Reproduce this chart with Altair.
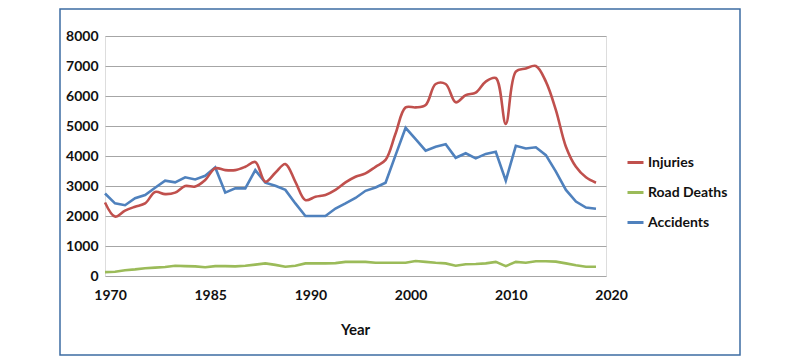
import altair as alt
import pandas as pd

years = list(range(1970, 2020))
injuries = [2450, 1980, 2180, 2310, 2420, 2800, 2730, 2780, 3000, 2980,
            3200, 3590, 3530, 3530, 3640, 3800, 3140, 3440, 3730, 3140,
            2530, 2640, 2700, 2870, 3120, 3310, 3420, 3640, 3870, 4750,
            5620, 5620, 5700, 6400, 6400, 5790, 6030, 6110, 6480, 6600,
            5070, 6810, 6920, 7000, 6480, 5530, 4310, 3640, 3290, 3110]
road_deaths = [130, 140, 190, 220, 260, 280, 300, 340, 330, 320,
               290, 330, 330, 320, 340, 380, 420, 370, 310, 340,
               420, 420, 420, 430, 470, 470, 470, 440, 440, 440,
               440, 500, 470, 440, 420, 340, 390, 400, 420, 470,
               330, 470, 440, 490, 490, 480, 420, 360, 310, 310]
accidents = [2750, 2420, 2360, 2590, 2700, 2940, 3180, 3120, 3290, 3220,
             3340, 3620, 2780, 2920, 2920, 3530, 3110, 3010, 2870, 2420,
             2000, 2000, 2000, 2250, 2420, 2600, 2840, 2950, 3110, 4030,
             4940, 4560, 4180, 4310, 4390, 3940, 4090, 3920, 4070, 4140,
             3180, 4340, 4250, 4290, 4030, 3480, 2870, 2480, 2280, 2240]

series_names = ["Injuries", "Road Deaths", "Accidents"]
series_colors = ["#c0504d", "#9bbb59", "#4f81bd"]
tick_years = [1970, 1980, 1990, 2000, 2010, 2020]
tick_labels = ["1970", "1985", "1990", "2000", "2010", "2020"]

rows = []
for name, vals in zip(series_names, [injuries, road_deaths, accidents]):
    for y, v in zip(years, vals):
        rows.append({"Year": y, "Value": v, "Series": name})
df = pd.DataFrame(rows)

label_expr = "{" + ",".join(f"'{y}':'{l}'" for y, l in zip(tick_years, tick_labels)) + "}[datum.value]"

FONT = "Lato"

x_enc = alt.X("Year:Q", scale=alt.Scale(domain=[1970, 2020], nice=False, zero=False),
              axis=alt.Axis(values=tick_years, labelExpr=label_expr, grid=False, ticks=False,
                            domain=False, labelFontSize=14, labelFontWeight="bold",
                            labelPadding=12, labelOffset=5, labelFlush=False,
                            title="Year", titleFontSize=15, titleFontWeight="bold",
                            titlePadding=20, titleX=250, labelColor="#111", titleColor="#111"))
y_enc = alt.Y("Value:Q", scale=alt.Scale(domain=[0, 8000], nice=False),
              axis=alt.Axis(values=list(range(0, 8001, 1000)), format="d", grid=True, ticks=False,
                            domain=False, labelFontSize=14, labelFontWeight="bold",
                            labelPadding=7, title=None, labelColor="#111",
                            gridColor="#a6a6a6", gridWidth=1))
color_enc = alt.Color("Series:N",
                      scale=alt.Scale(domain=series_names, range=series_colors),
                      sort=series_names,
                      legend=alt.Legend(title=None, orient="none", legendX=521, legendY=117,
                                        symbolType="stroke", symbolStrokeWidth=3,
                                        symbolSize=256, labelFontSize=14,
                                        labelFontWeight="bold", labelFont=FONT,
                                        rowPadding=13, labelOffset=3, labelColor="#111"))

base = alt.Chart(df)

frame = alt.Chart(pd.DataFrame({"k": [0]})).mark_rect(
    fill=None, stroke="#3d6ca3", strokeWidth=1.5
).encode(x=alt.value(-45), x2=alt.value(635), y=alt.value(-27), y2=alt.value(319))

red = base.transform_filter(alt.datum.Series == "Injuries").mark_line(
    strokeWidth=2.6, interpolate="catmull-rom").encode(x=x_enc, y=y_enc, color=color_enc)
others = base.transform_filter(alt.datum.Series != "Injuries").mark_line(
    strokeWidth=2.6).encode(x=x_enc, y=y_enc, color=color_enc)

chart = alt.layer(frame, others, red).properties(
    width=501, height=240,
    padding={"left": 97, "top": 28, "right": 150, "bottom": 80},
    autosize=alt.AutoSizeParams(type="none"),
).configure_view(stroke="#a6a6a6", strokeWidth=1
).configure(font=FONT, background="white")

chart.save("out.html", embed_options={"renderer": "svg", "actions": False})
